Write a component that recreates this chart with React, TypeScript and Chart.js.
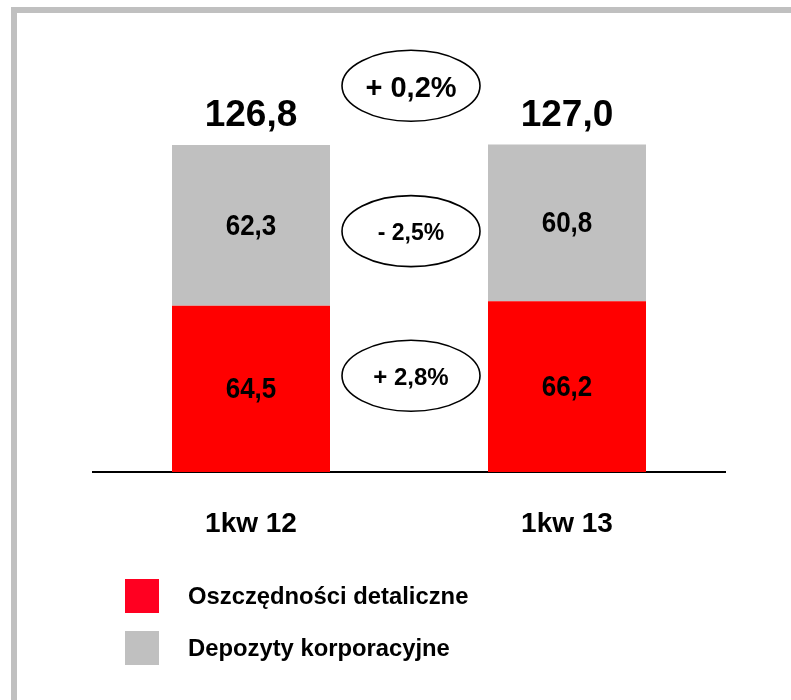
import React, { useEffect, useRef } from "react";
import { Chart, registerables } from "chart.js";

Chart.register(...registerables);

const categories = ["1kw 12", "1kw 13"];
const retailSavings = [64.5, 66.2];
const corporateDeposits = [62.3, 60.8];
const totals = [126.8, 127.0];
const changeTotal = "+ 0,2%";
const changeCorporate = "- 2,5%";
const changeRetail = "+ 2,8%";
const seriesNames = ["Oszczędności detaliczne", "Depozyty korporacyjne"];

const FONT = "'Liberation Sans', Arial, sans-serif";
const RED = "#ff0000";
const GRAY = "#c0c0c0";

const fmt = (v: number) => v.toFixed(1).replace(".", ",");

const overlayPlugin = {
  id: "overlay",
  beforeDraw(chart: any) {
    const ctx = chart.ctx;
    ctx.save();
    ctx.fillStyle = "#ffffff";
    ctx.fillRect(0, 0, chart.width, chart.height);
    ctx.fillStyle = "#c0c0c0";
    ctx.fillRect(11, 7, chart.width - 11, 6);
    ctx.fillRect(11, 7, 6, chart.height - 7);
    ctx.restore();
  },
  afterDraw(chart: any) {
    const ctx = chart.ctx;
    ctx.save();
    ctx.fillStyle = "#000";
    ctx.textAlign = "center";
    // segment labels (slightly tall lettering, as in the source)
    chart.data.datasets.forEach((ds: any, di: number) => {
      const meta = chart.getDatasetMeta(di);
      meta.data.forEach((bar: any, i: number) => {
        const p = bar.getProps(["x", "y", "base"], true);
        ctx.save();
        ctx.translate(p.x, (p.y + p.base) / 2 + 1);
        ctx.scale(1, 1.16);
        ctx.font = `bold 26px ${FONT}`;
        ctx.textBaseline = "middle";
        ctx.fillText(fmt(ds.data[i]), 0, 0);
        ctx.restore();
      });
    });
    // totals
    const topMeta = chart.getDatasetMeta(1);
    topMeta.data.forEach((bar: any, i: number) => {
      const p = bar.getProps(["x", "y"], true);
      ctx.font = `bold 37px ${FONT}`;
      ctx.textBaseline = "alphabetic";
      ctx.fillText(fmt(totals[i]), p.x, p.y - 19);
    });
    // change ellipses
    const r = chart.getDatasetMeta(0).data.map((b: any) => b.getProps(["x", "y", "base"], true));
    const g = topMeta.data.map((b: any) => b.getProps(["x", "y", "base"], true));
    const cx = (r[0].x + r[1].x) / 2 + 2;
    const items = [
      { text: changeTotal, y: (g[0].y + g[1].y) / 2 - 59, size: 29 },
      { text: changeCorporate, y: ((g[0].y + g[0].base) / 2 + (g[1].y + g[1].base) / 2) / 2 + 7, size: 23 },
      { text: changeRetail, y: ((r[0].y + r[0].base) / 2 + (r[1].y + r[1].base) / 2) / 2 - 12, size: 24 },
    ];
    items.forEach((it) => {
      ctx.beginPath();
      ctx.ellipse(cx, it.y, 69, 35.5, 0, 0, Math.PI * 2);
      ctx.lineWidth = 1.6;
      ctx.strokeStyle = "#000";
      ctx.stroke();
      ctx.font = `bold ${it.size}px ${FONT}`;
      ctx.textBaseline = "middle";
      ctx.fillText(it.text, cx, it.y + 3);
    });
    // legend
    const legendColors = ["#ff0021", GRAY];
    const legendY = [579, 631];
    ctx.textAlign = "left";
    chart.data.datasets.forEach((ds: any, di: number) => {
      ctx.fillStyle = legendColors[di];
      ctx.fillRect(125, legendY[di], 34, 34);
      ctx.fillStyle = "#000";
      ctx.font = `bold 23.8px ${FONT}`;
      ctx.textBaseline = "middle";
      ctx.fillText(ds.label, 188, legendY[di] + 18);
    });
    ctx.restore();
  },
};

export default function App() {
  const ref = useRef<HTMLCanvasElement>(null);
  useEffect(() => {
    if (!ref.current) return;
    const chart = new Chart(ref.current, {
      type: "bar",
      data: {
        labels: categories,
        datasets: [
          { label: seriesNames[0], data: retailSavings, backgroundColor: RED, borderWidth: 0 },
          { label: seriesNames[1], data: corporateDeposits, backgroundColor: GRAY, borderWidth: 0 },
        ],
      },
      options: {
        responsive: false,
        animation: false,
        devicePixelRatio: 1,
        datasets: { bar: { categoryPercentage: 1, barPercentage: 0.5 } },
        layout: { padding: { left: 93, right: 66, top: 111, bottom: 0 } },
        plugins: { legend: { display: false }, tooltip: { enabled: false } },
        scales: {
          x: {
            stacked: true,
            grid: { display: false },
            border: { display: true, color: "#000", width: 2 },
            ticks: {
              color: "#000",
              font: { family: FONT, size: 28, weight: "bold" },
              padding: 27,
            },
            afterFit: (scale: any) => {
              scale.height = 228;
            },
          } as any,
          y: {
            stacked: true,
            display: false,
            min: 0,
            max: 140,
          },
        },
      },
      plugins: [overlayPlugin],
    });
    return () => chart.destroy();
  }, []);
  return (
    <div style={{ position: "fixed", left: 0, top: 0, width: 791, height: 700, background: "#fff" }}>
      <canvas ref={ref} width={791} height={700} style={{ display: "block" }} />
    </div>
  );
}
